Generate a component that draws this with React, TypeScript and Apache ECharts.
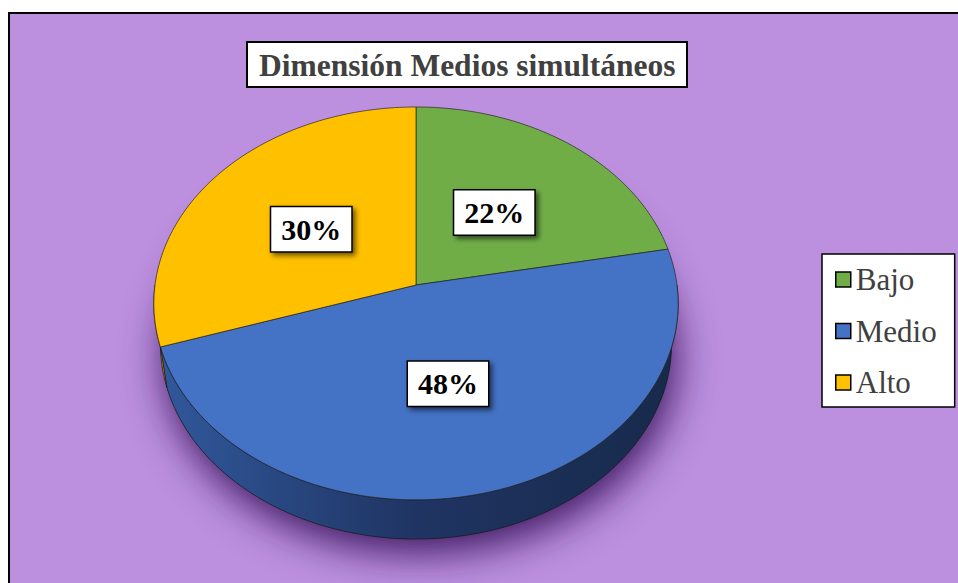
import React, { useEffect, useRef } from "react";
import * as echarts from "echarts";

const titleText = "Dimensión Medios simultáneos";
const categories = ["Bajo", "Medio", "Alto"];
const values = [22, 48, 30];

const TOP_COLORS = ["#70AD47", "#4472C4", "#FFC000"];
const SIDE_COLORS = [
  ["#507d33", "#3c5f26", "#2f4a1e"],
  ["#31599d", "#1f3462", "#172a4b"],
  ["#c99600", "#a67c00", "#8a6700"],
];

// projection of the tilted disc
const CX = 416;
const CY = 285;
const S = 261;
const SINP = 0.746;
const COSP = 0.665;
const U = 0.141;
const T = 0.242;
const FONT = "Liberation Serif";

function proj(deg: number, r: number, h: number): number[] {
  const t = (deg * Math.PI) / 180;
  const a = r * Math.sin(t);
  const b = r * Math.cos(t);
  const den = 1 + U * (b * COSP - h * SINP);
  return [CX + (S * a) / den, CY - (S * (h * COSP + b * SINP)) / den];
}

function arc(a0: number, a1: number, h: number): number[][] {
  const n = Math.max(2, Math.ceil(Math.abs(a1 - a0)));
  const pts: number[][] = [];
  for (let i = 0; i <= n; i++) pts.push(proj(a0 + ((a1 - a0) * i) / n, 1, h));
  return pts;
}

export default function App() {
  const ref = useRef<HTMLDivElement>(null);
  useEffect(() => {
    if (!ref.current) return;
    const chart = echarts.init(ref.current, null, { renderer: "svg" });
    const total = values.reduce((s, v) => s + v, 0);
    const starts: number[] = [];
    let acc = 0;
    values.forEach((v) => {
      starts.push((acc / total) * 360);
      acc += v;
    });

    const sliceSeries = categories.map((name, i) => ({
      type: "custom",
      name,
      coordinateSystem: "none",
      itemStyle: { color: TOP_COLORS[i] },
      data: [values[i]],
      renderItem: (_params: any, api: any) => {
        const v = api.value(0) as number;
        const a0 = starts[i];
        const a1 = a0 + (v / total) * 360;
        const children: any[] = [];
        const s0 = Math.max(a0, 90);
        const s1 = Math.min(a1, 270);
        if (s1 > s0) {
          const top = arc(s0, s1, 0);
          const bot = arc(s1, s0, -T);
          children.push({
            type: "polygon",
            shape: { points: top.concat(bot) },
            style: {
              fill: new echarts.graphic.LinearGradient(
                155, 0, 678, 0,
                [
                  { offset: 0, color: SIDE_COLORS[i][0] },
                  { offset: 0.5, color: SIDE_COLORS[i][1] },
                  { offset: 1, color: SIDE_COLORS[i][2] },
                ],
                true
              ),
              stroke: "#1a1a1a",
              lineWidth: 0.7,
            },
          });
        }
        children.push({
          type: "polygon",
          shape: { points: [[CX, CY]].concat(arc(a0, a1, 0)) },
          style: { fill: TOP_COLORS[i], stroke: "#262626", lineWidth: 0.7 },
        });
        const mid = (a0 + a1) / 2;
        const p = proj(mid, 0.5, 0);
        children.push({
          type: "text",
          x: p[0] - 2,
          y: p[1],
          style: {
            text: Math.round((v / total) * 100) + "%",
            fontFamily: FONT,
            fontWeight: "bold",
            fontSize: 30,
            fill: "#000",
            align: "center",
            verticalAlign: "middle",
            backgroundColor: "#fff",
            borderColor: "#000",
            borderWidth: 1.5,
            padding: [8, 10, 6, 10],
            shadowColor: "rgba(0,0,0,0.55)",
            shadowBlur: 5,
            shadowOffsetX: 3,
            shadowOffsetY: 3,
          },
        });
        return { type: "group", children };
      },
    }));

    const shadowSeries = {
      type: "custom",
      name: "sombra",
      coordinateSystem: "none",
      silent: true,
      data: [0],
      renderItem: () => ({
        type: "polygon",
        shape: { points: arc(0, 360, -T) },
        style: {
          fill: "#172a4b",
          shadowColor: "rgba(40,0,70,0.85)",
          shadowBlur: 40,
          shadowOffsetX: 4,
          shadowOffsetY: 14,
        },
      }),
    };

    chart.setOption({
      animation: false,
      graphic: [
        {
          type: "rect",
          z: -10,
          shape: { x: 9, y: 13, width: 1000, height: 1000 },
          style: { fill: "#BC8FDF", stroke: "#000", lineWidth: 2 },
        },
      ],
      title: {
        text: titleText,
        left: 247,
        top: 42,
        padding: [7, 12, 6, 12],
        backgroundColor: "#fff",
        borderColor: "#000",
        borderWidth: 2,
        textStyle: {
          fontFamily: FONT,
          fontWeight: "bold",
          fontSize: 31.5,
          color: "#404040",
        },
      },
      legend: {
        data: categories,
        orient: "vertical",
        left: 822,
        top: 254,
        icon: "rect",
        itemWidth: 15,
        itemHeight: 15,
        itemGap: 20.5,
        padding: [10, 18, 9, 13],
        backgroundColor: "#fff",
        borderColor: "#000",
        borderWidth: 1.5,
        itemStyle: { borderColor: "#000", borderWidth: 1.5 },
        textStyle: { fontFamily: FONT, fontSize: 31, color: "#404040", lineHeight: 31 },
      },
      series: [shadowSeries, ...sliceSeries],
    });
    return () => chart.dispose();
  }, []);
  return (
    <div
      ref={ref}
      style={{ position: "absolute", left: 0, top: 0, width: 958, height: 583 }}
    />
  );
}
